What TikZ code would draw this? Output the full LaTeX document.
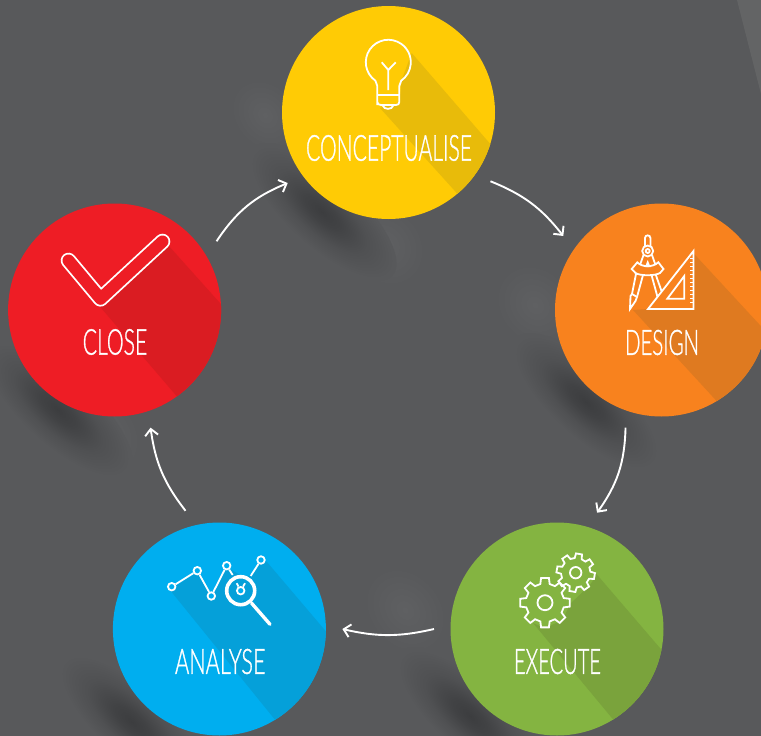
\documentclass[tikz,border=0pt]{standalone}
\usepackage{fontspec}
\usepackage{graphicx}
\setmainfont{Liberation Sans}
\newfontfamily\lablf[FakeBold=1.2]{Lato Light}
\usetikzlibrary{arrows.meta}
\definecolor{bgc}{HTML}{58595B}
\definecolor{spotd}{HTML}{3C3D3F}
\definecolor{spotl}{HTML}{5F6062}
\definecolor{streakc}{HTML}{636465}
\definecolor{yel}{HTML}{FFCB05}\definecolor{yelS}{HTML}{E8BB0A}
\definecolor{ora}{HTML}{F8821E}\definecolor{oraS}{HTML}{DF7A20}
\definecolor{gre}{HTML}{84B441}\definecolor{greS}{HTML}{7AA33C}
\definecolor{blu}{HTML}{00AEEF}\definecolor{bluS}{HTML}{05A0D9}
\definecolor{rds}{HTML}{EE1D25}\definecolor{rdsS}{HTML}{DA1C22}
\pgfdeclareradialshading{darkspot}{\pgfpointorigin}{color(0bp)=(spotd); color(6bp)=(spotd!80!bgc); color(15bp)=(spotd!30!bgc); color(24bp)=(bgc); color(50bp)=(bgc)}
\pgfdeclareradialshading{lightspot}{\pgfpointorigin}{color(0bp)=(spotl); color(24bp)=(bgc); color(50bp)=(bgc)}
\newcommand{\softspot}[6]{\begin{scope}[transform canvas={shift={(#1,#2)},rotate=#3}]
  \path[shading=#6] (0,0) ellipse [x radius=#4, y radius=#5];\end{scope}}
\newcommand{\longshadow}[4]{\begin{scope}\clip (#1,#2) circle [radius=106.5];
  \fill[#3] #4;\end{scope}}
\newcommand{\gearicon}[5]{\draw[icon] ({#1+#4*cos(#5-14)},{#2+#4*sin(#5-14)})
  \foreach \k in {0,...,7}{ -- ({#1+#3*cos(#5+45*\k-9)},{#2+#3*sin(#5+45*\k-9)})
     -- ({#1+#3*cos(#5+45*\k+9)},{#2+#3*sin(#5+45*\k+9)})
     -- ({#1+#4*cos(#5+45*\k+14)},{#2+#4*sin(#5+45*\k+14)})
     -- ({#1+#4*cos(#5+45*\k+31)},{#2+#4*sin(#5+45*\k+31)}) } -- cycle;}
\tikzset{
  stage/.style={circle,minimum size=213pt,inner sep=0pt,outer sep=16.5pt,fill=#1},
  conn/.style={white,line width=1.9pt,-{Straight Barb[length=6.5pt,width=13pt,line width=1.9pt]}},
  icon/.style={white,line width=1.8pt,line join=miter,line cap=butt},
  lbl/.style={white,inner sep=0pt,outer sep=0pt,font=\lablf},
  dot/.style={circle,draw=white,line width=1.8pt,minimum size=7.5pt,inner sep=0pt,fill=blu}
}
\newcommand{\lab}[3]{\resizebox{#1pt}{#2pt}{#3}}
\begin{document}
\begin{tikzpicture}[x=1pt,y=-1pt]
\useasboundingbox (0,0) rectangle (761,736);
\clip (0,0) rectangle (761,736);
\fill[bgc] (0,0) rectangle (761,736);
\fill[streakc] (737,0) -- (761,0) -- (761,94) -- cycle;
% soft light patches
\softspot{385}{245}{-50}{45}{38}{lightspot}
\softspot{535}{305}{-50}{45}{38}{lightspot}
\softspot{405}{610}{-50}{48}{38}{lightspot}
\softspot{100}{435}{-50}{45}{38}{lightspot}
\softspot{265}{115}{-50}{40}{32}{lightspot}
% soft cast shadows
\softspot{322}{212}{-42}{95}{36}{darkspot}
\softspot{586}{402}{-42}{95}{36}{darkspot}
\softspot{470}{716}{-42}{95}{36}{darkspot}
\softspot{132}{722}{-42}{95}{36}{darkspot}
\softspot{58}{410}{-42}{95}{36}{darkspot}
% stages
\node[stage=yel] (conceptualise) at (388.5,112.5) {};
\node[stage=ora] (design) at (661.5,310) {};
\node[stage=gre] (execute) at (557,629) {};
\node[stage=blu] (analyse) at (219.4,629) {};
\node[stage=rds] (close) at (114.6,310) {};
% long shadows
\longshadow{388.5}{112.5}{yelS}{(411.7,53) -- (530,190) -- (500,241) -- (380,108) -- (383,107) -- (399.3,103) -- (401.7,80) -- cycle}
\longshadow{661.5}{310}{oraS}{(693.3,253) -- (820,390) -- (780,470) -- (633,310) -- (648,309) -- (694,309) -- cycle}
\longshadow{557}{629}{greS}{(593,570) -- (720,718) -- (680,800) -- (533,623) -- (545,628) -- (562.7,620) -- (570,604) -- (589,586) -- (595,578) -- cycle}
\longshadow{219.4}{629}{bluS}{(266.7,561.7) -- (380,695) -- (340,800) -- (170,590) -- (197.3,572) -- (211.3,598) -- (226.7,567) -- (240,575) -- (250.7,576) -- (261,560) -- cycle}
\longshadow{114.6}{310}{rdsS}{(168,245) -- (280,370) -- (240,470) -- (100,306.7) -- (105,304) -- cycle}
% labels
\node[lbl] (lconceptualise) at (389,148) {\lab{166}{25.7}{CONCEPTUALISE}};
\node[lbl] (ldesign) at (662,342.5) {\lab{74}{25}{DESIGN}};
\node[lbl] (lexecute) at (557.5,661.5) {\lab{87}{25}{EXECUTE}};
\node[lbl] (lanalyse) at (220.3,661.5) {\lab{90.5}{25}{ANALYSE}};
\node[lbl] (lclose) at (115,342) {\lab{64.5}{25.5}{CLOSE}};
% bulb
\draw[icon] (377.3,105) -- (377.3,86) -- (375.4,80.7) arc [start angle=125,end angle=415,radius=22.5] -- (399.3,86) -- (399.3,102) .. controls (399.3,104) and (398,105) .. (396,105) -- (381,105) .. controls (379,105) and (377.3,104) .. (377.3,102) -- cycle;
\draw[icon] (377.3,95) -- (399.3,95);
\draw[icon] (382.7,105.5) .. controls (384,110) and (392,110) .. (393.3,105.5);
\draw[icon] (388.3,90) -- (388.3,70) -- (381.7,62.3) (388.3,70) -- (395.7,62.3);
% set square
\draw[icon,line join=miter] (693.5,251) -- (693.5,309) -- (648,309) -- cycle;
\draw[icon] (684.3,276) -- (684.3,298.7) -- (667.3,298.7) -- cycle;
\foreach \ty in {258,262,...,304}{\draw[white,line width=0.7pt] (690,\ty) -- (693,\ty);}
% compass
\draw[icon] (645,246) -- (645,238) .. controls (645,234.5) and (650.4,234.5) .. (650.4,238) -- (650.4,246);
\draw[icon] (647.7,251) circle [radius=5.5];
\draw[icon] (647.7,251) circle [radius=2];
\draw[icon] (643.5,255) -- (640,265) (652,255) -- (655.5,265);
\fill[white] (647.7,260) -- (645,267) -- (650.5,267) -- cycle;
\draw[icon] (637.3,262.3) .. controls (642,267.5) and (653,267.5) .. (658.3,262.3) -- (663.5,269) -- (660,273) .. controls (655,276) and (640,276) .. (635.5,273) -- (631.7,269) -- cycle;
\draw[icon] (636,274) -- (632,294) -- (630.5,296) -- (630,309) -- (635.5,301) -- (637,297) -- (643,275);
\draw[icon] (637,297) -- (632,294);
\draw[icon] (655.5,274) -- (661.5,291) (651.5,275) -- (657.5,297);
% gears
\gearicon{545}{602.7}{25}{19.3}{-90}
\draw[icon] (545,602.7) circle [radius=7.5];
\gearicon{575.7}{572.7}{19.3}{14.7}{-80}
\draw[icon] (575.7,572.7) circle [radius=5.7];
% chart and magnifier
\node[dot] (d1) at (171.7,586.7) {};
\node[dot] (d2) at (197.3,570.7) {};
\node[dot] (d3) at (211.3,596) {};
\node[dot] (d4) at (226.7,565.7) {};
\node[dot] (d5) at (240.7,590.7) {};
\node[dot] (d6) at (261,560) {};
\draw[icon] (d1) -- (d2) (d2) -- (d3) (d3) -- (d4) (d5) -- ++(-4,-7.5) (d5) -- ++(4.3,-7.5);
\coordinate (g1) at (232.7,575);
\coordinate (g2) at (250.7,576);
\draw[icon] (d4) -- (g1) (g2) -- (d6);
\draw[white,line width=3.6pt] (240.7,590.7) circle [radius=14];
\draw[white,line width=3.4pt,line cap=round] (251.7,603.3) -- (270,624.3);
% tick
\draw[white,line width=15.6pt,line cap=round,line join=round] (68.5,260.5) -- (100.5,298.8) -- (162.5,241.5);
\draw[rds,line width=12pt,line cap=round,line join=round] (68.5,260.5) -- (100.5,298.8) -- (162.5,241.5);
% connectors
\draw[conn] (close.34.7) to[bend left=17] (conceptualise.215.4);
\draw[conn] (conceptualise.-34.3) to[bend left=15] (design.143.3);
\draw[conn] (design.-107.4) to[bend left=17] (execute.71.6);
\draw[conn] (execute.180) to[bend left=13] (analyse.0);
\draw[conn] (analyse.106.8) to[bend left=15] (close.-73);
\end{tikzpicture}
\end{document}
